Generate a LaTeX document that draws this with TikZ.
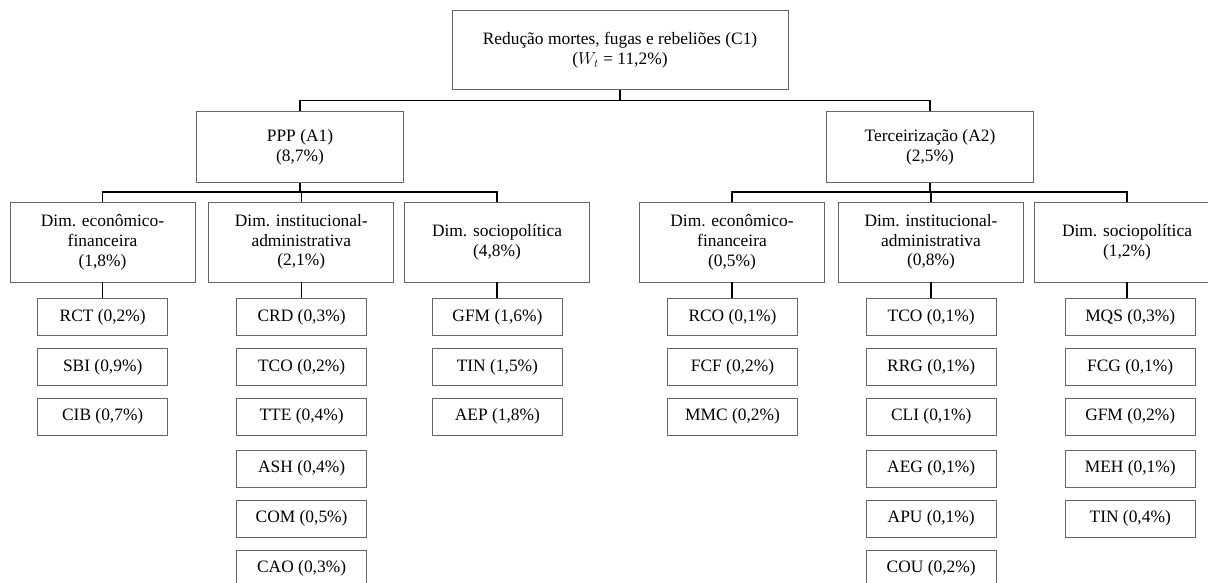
\documentclass[tikz,border=0pt]{standalone}
\usepackage{fontspec}
\setmainfont{Liberation Serif}
\begin{document}
\begin{tikzpicture}[x=1pt,y=-1pt,
  box/.style={draw=black!60, line width=0.9pt, fill=white, inner sep=0pt, align=center,
    font=\fontsize{17.4}{19.8}\selectfont},
  topbox/.style={box, minimum width=336pt, minimum height=79pt},
  altbox/.style={box, minimum width=207pt, minimum height=71pt},
  dimbox/.style={box, minimum width=185pt, minimum height=80pt},
  leafbox/.style={box, minimum width=130pt, minimum height=37pt},
  conn/.style={draw=black, line width=1.5pt}]
\useasboundingbox (0,0) rectangle (1208,582);
\clip (0,0) rectangle (1208,582);

% top
\node[topbox] (c1) at (620,50.3) {Redução mortes, fugas e rebeliões (C1)\\($W_t$ = 11,2\%)};
% alternatives
\node[altbox] (a1) at (300,147.2) {PPP (A1)\\(8,7\%)};
\node[altbox] (a2) at (930,147.2) {Terceirização (A2)\\(2,5\%)};
% dimensions
\node[dimbox] (d1) at (102.5,242) {Dim. econômico-\\financeira\\(1,8\%)};
\node[dimbox] (d2) at (301.3,242) {Dim. institucional-\\administrativa\\(2,1\%)};
\node[dimbox] (d3) at (497,242) {Dim. sociopolítica\\(4,8\%)};
\node[dimbox] (d4) at (732,242) {Dim. econômico-\\financeira\\(0,5\%)};
\node[dimbox] (d5) at (931,242) {Dim. institucional-\\administrativa\\(0,8\%)};
\node[dimbox] (d6) at (1127,242) {Dim. sociopolítica\\(1,2\%)};

% leaves column 1
\node[leafbox] (l11) at (102.7,317.4) {RCT (0,2\%)};
\node[leafbox] (l12) at (102.7,367) {SBI (0,9\%)};
\node[leafbox] (l13) at (102.7,416.5) {CIB (0,7\%)};
% column 2
\node[leafbox] (l21) at (301.6,317.4) {CRD (0,3\%)};
\node[leafbox] (l22) at (301.6,367) {TCO (0,2\%)};
\node[leafbox] (l23) at (301.6,416.5) {TTE (0,4\%)};
\node[leafbox] (l24) at (301.6,468.7) {ASH (0,4\%)};
\node[leafbox] (l25) at (301.6,518.7) {COM (0,5\%)};
\node[leafbox] (l26) at (301.6,568.5) {CAO (0,3\%)};
% column 3
\node[leafbox] (l31) at (497.4,317.4) {GFM (1,6\%)};
\node[leafbox] (l32) at (497.4,367) {TIN (1,5\%)};
\node[leafbox] (l33) at (497.4,416.5) {AEP (1,8\%)};
% column 4
\node[leafbox] (l41) at (732.5,317.4) {RCO (0,1\%)};
\node[leafbox] (l42) at (732.5,367) {FCF (0,2\%)};
\node[leafbox] (l43) at (732.5,416.5) {MMC (0,2\%)};
% column 5
\node[leafbox] (l51) at (931.2,317.4) {TCO (0,1\%)};
\node[leafbox] (l52) at (931.2,367) {RRG (0,1\%)};
\node[leafbox] (l53) at (931.2,416.5) {CLI (0,1\%)};
\node[leafbox] (l54) at (931.2,468.7) {AEG (0,1\%)};
\node[leafbox] (l55) at (931.2,518.7) {APU (0,1\%)};
\node[leafbox] (l56) at (931.2,568.5) {COU (0,2\%)};
% column 6
\node[leafbox] (l61) at (1130.2,317.4) {MQS (0,3\%)};
\node[leafbox] (l62) at (1130.2,367) {FCG (0,1\%)};
\node[leafbox] (l63) at (1130.2,416.5) {GFM (0,2\%)};
\node[leafbox] (l64) at (1130.2,468.7) {MEH (0,1\%)};
\node[leafbox] (l65) at (1130.2,518.7) {TIN (0,4\%)};

% connectors
\draw[conn] (c1.south) -- ++(0,10) -| (a1.north);
\draw[conn] (c1.south) -- ++(0,10) -| (a2.north);
\foreach \d in {d1,d2,d3}{
  \draw[conn] (a1.south) -- ++(0,9) -| (\d.north);
}
\foreach \d in {d4,d5,d6}{
  \draw[conn] (a2.south) -- ++(0,9) -| (\d.north);
}
\foreach \d/\l in {d1/l11,d2/l21,d3/l31,d4/l41,d5/l51,d6/l61}{
  \draw[conn] (\d.south) -- (\d.south |- \l.north);
}
\end{tikzpicture}
\end{document}
